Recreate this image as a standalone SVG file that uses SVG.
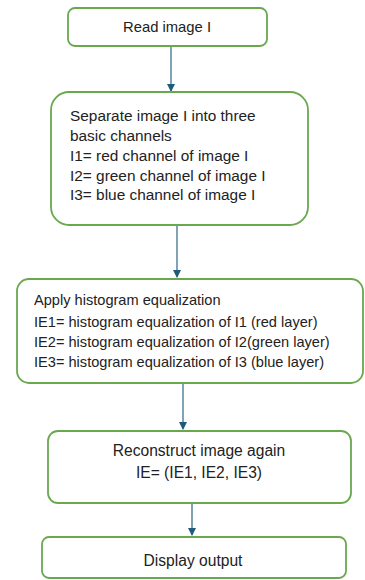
<svg xmlns="http://www.w3.org/2000/svg" width="365" height="580" viewBox="0 0 365 580">
<style>
.box{fill:#fff;stroke:#6aa84f;stroke-width:1.8}
.t{font-family:"Liberation Sans",Arial,sans-serif;font-size:14px;fill:#222}
.c{text-anchor:middle}
.edge{stroke:#2a6583;stroke-width:1.2;fill:none;marker-end:url(#ah)}
</style>
<defs>
<marker id="ah" markerWidth="8" markerHeight="8" refX="7" refY="4" orient="auto" markerUnits="userSpaceOnUse">
<path d="M0,0 L8,4 L0,8 Z" fill="#1f5b7a"/>
</marker>
</defs>
<rect width="365" height="580" fill="#fff"/>
<g id="edges">
<line class="edge" x1="171" y1="47" x2="171" y2="91"/>
<line class="edge" x1="177" y1="226" x2="177" y2="277"/>
<line class="edge" x1="183" y1="384" x2="183" y2="429"/>
<line class="edge" x1="192" y1="504" x2="192" y2="535"/>
</g>
<g id="n1">
<rect class="box" x="68" y="8" width="199" height="38" rx="7"/>
<text class="t c" x="167" y="32" style="font-size:14.8px">Read image I</text>
</g>
<g id="n2" style="font-size:15.4px">
<rect class="box" x="51" y="92" width="257" height="133" rx="18"/>
<text class="t" x="70" y="121" style="font-size:15.4px">Separate image I into three</text>
<text class="t" x="70" y="141" style="font-size:15.4px">basic channels</text>
<text class="t" x="70" y="161" style="font-size:15.4px">I1= red channel of image I</text>
<text class="t" x="70" y="181" style="font-size:15.4px">I2= green channel of image I</text>
<text class="t" x="70" y="200" style="font-size:15.4px">I3= blue channel of image I</text>
</g>
<g id="n3">
<rect class="box" x="17" y="279" width="346" height="104" rx="12"/>
<text class="t" x="34" y="305" style="font-size:14.6px">Apply histogram equalization</text>
<text class="t" x="34" y="327" style="font-size:14.6px">IE1= histogram equalization of I1 (red layer)</text>
<text class="t" x="34" y="347" style="font-size:14.6px">IE2= histogram equalization of I2(green layer)</text>
<text class="t" x="34" y="367" style="font-size:14.6px">IE3= histogram equalization of I3 (blue layer)</text>
</g>
<g id="n4">
<rect class="box" x="48" y="431" width="303" height="72" rx="10"/>
<text class="t c" x="199" y="456" style="font-size:15.6px">Reconstruct image again</text>
<text class="t c" x="199" y="478" style="font-size:15.6px">IE= (IE1, IE2, IE3)</text>
</g>
<g id="n5">
<rect class="box" x="42" y="537" width="304" height="41" rx="7"/>
<text class="t c" x="193" y="566" style="font-size:15.6px">Display output</text>
</g>
</svg>
